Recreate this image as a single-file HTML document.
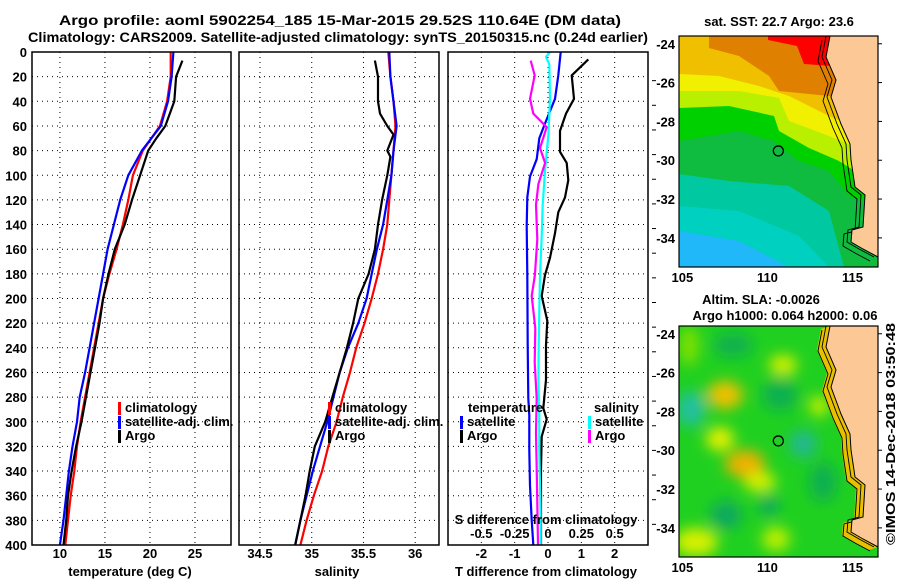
<!DOCTYPE html>
<html><head><meta charset="utf-8"><style>
html,body{margin:0;padding:0;background:#fff;width:900px;height:580px;overflow:hidden}
svg text{font-family:"Liberation Sans",sans-serif;font-weight:bold;fill:#000}
</style></head><body>
<svg id="fig" width="900" height="580" viewBox="0 0 900 580" xmlns="http://www.w3.org/2000/svg">
<text x="340" y="25" font-size="14" text-anchor="middle" textLength="562" lengthAdjust="spacingAndGlyphs">Argo profile: aoml 5902254_185 15-Mar-2015 29.52S 110.64E (DM data)</text>
<text x="338" y="42" font-size="14" text-anchor="middle" textLength="620" lengthAdjust="spacingAndGlyphs">Climatology: CARS2009. Satellite-adjusted climatology: synTS_20150315.nc (0.24d earlier)</text>
<g id="plots"></g>
<g id="map1"></g>
<g id="map2"></g>
<text font-size="13" transform="translate(895,545) rotate(-90)" textLength="222" lengthAdjust="spacingAndGlyphs">©IMOS 14-Dec-2018 03:50:48</text>
</svg>
<script>
// ---- data ----
const tDepth = [0,20,40,60,80,100,120,140,160,180,200,220,240,260,280,300,320,340,360,380,400];
const tClim = [22.3,22.3,21.9,21.1,19.2,18.1,17.6,17.0,16.3,15.5,14.8,14.3,13.8,13.3,12.8,12.3,11.9,11.6,11.2,10.9,10.6];
const tSat = [22.6,22.4,22.0,21.2,19.1,17.6,16.7,16.0,15.3,14.8,14.3,13.8,13.3,12.8,12.2,11.9,11.4,11.0,10.7,10.4,10.0];
const argoDepth = [7,20,40,50,60,70,80,100,120,140,160,180,200,220,240,260,280,300,320,340,360,380,400];
const tArgo = [23.6,22.9,22.7,22.2,21.7,20.7,19.8,18.9,18.0,17.2,16.1,15.4,14.8,14.4,13.9,13.4,12.9,12.4,11.8,11.3,10.9,10.7,10.4];
const sClim = [35.74,35.76,35.79,35.81,35.79,35.77,35.75,35.73,35.69,35.64,35.58,35.51,35.43,35.37,35.30,35.24,35.16,35.10,35.02,34.95,34.89];
const sSat = [35.75,35.76,35.79,35.82,35.79,35.77,35.73,35.69,35.63,35.58,35.53,35.45,35.35,35.27,35.21,35.15,35.08,35.01,34.95,34.89,34.84];
const sArgoDepth = [7,20,40,50,60,67,80,85,100,120,140,160,180,200,220,240,260,280,300,320,340,360,380,400];
const sArgo = [35.61,35.64,35.64,35.66,35.73,35.79,35.73,35.76,35.73,35.68,35.64,35.61,35.55,35.45,35.40,35.34,35.27,35.20,35.13,35.03,34.98,34.94,34.89,34.84];
const dtSatDepth = [0,19,38,58,70,87,101,118,141,181,238,281,295,323,352,380,400];
const dtSat = [0.38,0.31,0.21,-0.09,-0.26,-0.34,-0.54,-0.62,-0.64,-0.62,-0.61,-0.59,-0.56,-0.56,-0.54,-0.49,-0.44];
const dtArgoDepth = [6,19,38,50,64,81,90,104,118,130,147,167,181,198,218,238,266,289,298,312,338,366,400];
const dtArgo = [1.21,0.71,0.78,0.54,0.36,0.36,0.56,0.61,0.51,0.31,0.21,0.06,-0.09,-0.19,-0.02,-0.06,-0.06,-0.14,-0.04,-0.19,-0.21,-0.21,-0.21];
const dsSatDepth = [0,4,10,38,67,95,124,152,181,209,238,266,295,323,352,380,400];
const dsSat = [0.015,-0.015,0.01,0.015,0.003,-0.022,-0.04,-0.048,-0.06,-0.065,-0.07,-0.072,-0.065,-0.065,-0.06,-0.055,-0.055];
const dsArgoDepth = [7,19,38,50,61,78,90,107,124,152,181,198,224,252,281,309,338,366,400];
const dsArgo = [-0.13,-0.1,-0.135,-0.11,-0.01,-0.06,-0.022,-0.072,-0.09,-0.08,-0.098,-0.122,-0.095,-0.1,-0.085,-0.09,-0.085,-0.08,-0.075];
const depthTicks = [0,20,40,60,80,100,120,140,160,180,200,220,240,260,280,300,320,340,360,380,400];
const tTicks = [10,15,20,25];
const sTicks = [34.5,35,35.5,36];
const dtTicks = [-2,-1,0,1,2];
const dsTicks = [-0.5,-0.25,0,0.25,0.5];
const dsTickLabels = ['-0.5','-0.25','0','0.25','0.5'];
const latTicks = [-24,-26,-28,-30,-32,-34];
const lonTicks = [105,110,115];
const argoLon = 110.64, argoLat = -29.52;

const NS='http://www.w3.org/2000/svg';
function mk(tag, attrs, parent){const e=document.createElementNS(NS,tag);for(const k in attrs)e.setAttribute(k,attrs[k]);parent.appendChild(e);return e;}
const plots=document.getElementById('plots');
const Y0=52,Y1=545;
const yD = d => Y0 + d/400*(Y1-Y0);

function panel(name,x0,x1,vmin,vmax){
  const g=mk('g',{},plots);
  
  
  return {g, x:v=>x0+(v-vmin)/(vmax-vmin)*(x1-x0), x0, x1};
}
function grid(p, xt){
  depthTicks.forEach(d=>{ if(d>0&&d<400){const l=mk('line',{x1:p.x0,x2:p.x1,y1:yD(d),y2:yD(d),stroke:'#000','stroke-width':1,'stroke-dasharray':'1,4'},p.g);
    
    }});
  xt.forEach(v=>{const l=mk('line',{x1:p.x(v),x2:p.x(v),y1:Y0,y2:Y1,stroke:'#000','stroke-width':1,'stroke-dasharray':'1,4'},p.g);
    
    });
}
function frame(p){const r=mk('rect',{x:p.x0,y:Y0,width:p.x1-p.x0,height:Y1-Y0,fill:'none',stroke:'#000','stroke-width':1.5},p.g);
  
  }
function line(p,depths,vals,color,name){
  const pts=depths.map((d,i)=>p.x(vals[i]).toFixed(1)+','+yD(d).toFixed(1)).join(' ');
  const l=mk('polyline',{points:pts,fill:'none',stroke:color,'stroke-width':2.2,'stroke-linejoin':'round'},p.g);
  
  
}
function txt(g,x,y,s,anchor,size,name){const t=mk('text',{x:x,y:y,'font-size':size||13,'text-anchor':anchor||'middle'},g);t.textContent=s;
  
  return t;}
function legend(g,x,y,color,label,name){
  const b=mk('rect',{x:x,y:y-10,width:3,height:13,fill:color},g);
  
  
  txt(g,x+7,y,label,'start',13,name+'-label');
}

// Panel 1 temperature
const p1=panel('temperature-panel',32,231,6.9,29);
grid(p1,tTicks);
depthTicks.forEach(d=>txt(p1.g,27,yD(d)+5,String(d),'end',13,'depth-tick-label'));
tTicks.forEach(v=>txt(p1.g,p1.x(v),558,String(v),'middle',13,'temperature-tick-label'));
txt(p1.g,130,576,'temperature (deg C)','middle',13,'temperature-axis-title');
line(p1,tDepth,tClim,'#ff0000','temperature-climatology-line');
line(p1,tDepth,tSat,'#0000ff','temperature-satellite-line');
line(p1,argoDepth,tArgo,'#000000','temperature-argo-line');
frame(p1);
legend(p1.g,118,412,'#ff0000','climatology','legend-climatology');
legend(p1.g,118,426,'#0000ff','satellite-adj. clim.','legend-satellite-adj');
legend(p1.g,118,440,'#000000','Argo','legend-argo');

// Panel 2 salinity
const p2=panel('salinity-panel',239,439,34.297,36.23);
grid(p2,sTicks);
sTicks.forEach(v=>txt(p2.g,p2.x(v),558,String(v),'middle',13,'salinity-tick-label'));
txt(p2.g,337,576,'salinity','middle',13,'salinity-axis-title');
line(p2,tDepth,sClim,'#ff0000','salinity-climatology-line');
line(p2,tDepth,sSat,'#0000ff','salinity-satellite-line');
line(p2,sArgoDepth,sArgo,'#000000','salinity-argo-line');
frame(p2);
legend(p2.g,328,412,'#ff0000','climatology','legend-climatology');
legend(p2.g,328,426,'#0000ff','satellite-adj. clim.','legend-satellite-adj');
legend(p2.g,328,440,'#000000','Argo','legend-argo');

// Panel 3 differences
const p3=panel('difference-panel',448,648,-3,3);
const xS=v=>p3.x(v*4);
grid(p3,dtTicks);
depthTicks.forEach(d=>{ if(d>0&&d<400){const l=mk('line',{x1:652,x2:656,y1:yD(d)+4,y2:yD(d)+4,stroke:'#000','stroke-width':1},p3.g);
  
  }});
dtTicks.forEach(v=>txt(p3.g,p3.x(v),558,String(v),'middle',13,'t-diff-tick-label'));
txt(p3.g,546,576,'T difference from climatology','middle',13,'t-diff-axis-title');
const p3s={g:p3.g,x:xS};
line(p3,dtSatDepth,dtSat,'#0000ff','t-diff-satellite-line');
line(p3,dtArgoDepth,dtArgo,'#000000','t-diff-argo-line');
line(p3s,dsSatDepth,dsSat,'#00ffff','s-diff-satellite-line');
line(p3s,dsArgoDepth,dsArgo,'#ff00ff','s-diff-argo-line');
frame(p3);
txt(p3.g,546,524,'S difference from climatology','middle',13,'s-diff-axis-title');
dsTicks.forEach((v,i)=>txt(p3.g,xS(v),538,dsTickLabels[i],'middle',13,'s-diff-tick-label'));
txt(p3.g,468,412,'temperature','start',13,'legend-temperature-heading');
legend(p3.g,460,426,'#0000ff','satellite','legend-t-satellite');
legend(p3.g,460,440,'#000000','Argo','legend-t-argo');
txt(p3.g,594,412,'salinity','start',13,'legend-salinity-heading');
legend(p3.g,588,426,'#00ffff','satellite','legend-s-satellite');
legend(p3.g,588,440,'#ff00ff','Argo','legend-s-argo');

// ---- maps ----
const W=199,H=231;
const coast=[[151,0],[147,21],[157,44],[152,61],[162,88],[171,108],[172,124],[176,151],[186,159],[184,191],[173,194],[172,206],[184,213],[199,221],[199,0]];
function drawMap(id,ox,oy,titleLines,layers,blobs,band){
  const g=document.getElementById(id);
  titleLines.forEach((s,i)=>txt(g,ox+100+ (i==1?6:0)- (titleLines.length>1&&i==0?18:0),oy-22+ i*16 + (titleLines.length==1?12:0),s,'middle',13,'map-title'));
  const clipId=id+'clip';
  const cp=mk('clipPath',{id:clipId},g);mk('rect',{x:ox,y:oy,width:W,height:H},cp);
  const inner=mk('g',{'clip-path':'url(#'+clipId+')'},g);
  layers.forEach(L=>{const pg=mk('polygon',{points:L[1].map(p=>(ox+p[0])+','+(oy+p[1])).join(' '),fill:L[0]},inner);
    
    });
  if(blobs){
    const f=mk('filter',{id:id+'blur',x:'-50%',y:'-50%',width:'200%',height:'200%'},g);
    mk('feGaussianBlur',{stdDeviation:7},f);
    const bg=mk('g',{filter:'url(#'+id+'blur)'},inner);
    blobs.forEach(b=>{const c=mk('ellipse',{cx:ox+b[0],cy:oy+b[1],rx:b[2],ry:b[3],fill:b[4]},bg);
      
      });
  }
  if(band){
    const bp=coast.slice(0,14).map(p=>(ox+p[0])+','+(oy+p[1])).concat(coast.slice(0,14).reverse().map(p=>(ox+p[0]-9)+','+(oy+p[1]+3))).join(' ');
    const b=mk('polygon',{points:bp,fill:band},inner);
    
    
  }
  const c1=coast.slice(0,14).map(p=>(ox+p[0]-4)+','+(oy+p[1])).join(' ');
  const c2=coast.slice(0,14).map(p=>(ox+p[0]-8)+','+(oy+p[1]+4)).join(' ');
  const l1=mk('polyline',{points:c1,fill:'none',stroke:'#000','stroke-width':0.9},inner);
  
  
  const l2=mk('polyline',{points:c2,fill:'none',stroke:'#000','stroke-width':0.9},inner);
  
  
  const land=mk('polygon',{points:coast.map(p=>(ox+p[0])+','+(oy+p[1])).join(' '),fill:'#fcc896',stroke:'#000','stroke-width':1},inner);
  
  
  const fr=mk('rect',{x:ox,y:oy,width:W,height:H,fill:'none',stroke:'#000','stroke-width':1.2},g);
  
  
  const lonX=v=>ox+(v-104.8)/(116.5-104.8)*W;
  const latY=v=>oy+(-23.6-v)/(35.5-23.6)*H;
  latTicks.forEach(v=>{txt(g,ox-4,latY(v)+5,String(v),'end',13,'latitude-tick-label');
    const t=mk('line',{x1:ox+W,x2:ox+W+4,y1:latY(v),y2:latY(v),stroke:'#000'},g);
    
    });
  lonTicks.forEach(v=>txt(g,lonX(v),oy+H+15,String(v),'middle',13,'longitude-tick-label'));
  const ac=mk('circle',{cx:lonX(argoLon),cy:latY(argoLat),r:5,fill:'none',stroke:'#000','stroke-width':1.3},g);
  
  
}
drawMap('map1',679,36,['sat. SST: 22.7 Argo: 23.6'],[
 ['#20b8f8',[[0,0],[W,0],[W,H],[0,H]]],
 ['#00d0c0',[[0,0],[W,0],[W,H],[110,H],[60,205],[0,195]]],
 ['#00c8a0',[[0,0],[W,0],[W,H],[150,H],[120,200],[60,175],[0,170]]],
 ['#10bc40',[[0,0],[W,0],[W,H],[165,H],[150,175],[110,150],[50,145],[0,138]]],
 ['#00d000',[[0,0],[W,0],[W,170],[170,160],[150,135],[120,125],[95,105],[60,95],[0,105]]],
 ['#b8f000',[[0,0],[W,0],[W,150],[160,125],[130,112],[100,95],[95,80],[50,70],[0,72]]],
 ['#f0f000',[[0,0],[W,0],[W,120],[150,100],[110,85],[100,62],[60,55],[0,55]]],
 ['#f0c000',[[0,0],[W,0],[W,100],[150,80],[110,60],[80,50],[40,40],[0,38]]],
 ['#e08000',[[30,0],[W,0],[W,70],[150,60],[100,55],[90,40],[60,20],[30,12]]],
 ['#ff0000',[[89,0],[150,0],[152,30],[125,28],[118,10],[89,4]]]
],null,null);
drawMap('map2',679,326,['Altim. SLA: -0.0026','Argo h1000: 0.064 h2000: 0.06'],[
 ['#20d020',[[0,0],[W,0],[W,H],[0,H]]]
],[
 [12,83,14,18,'#20c0a0'],[46,69,18,14,'#f0c000'],[41,113,14,12,'#e8f000'],[66,138,20,14,'#f0b000'],
 [81,156,16,10,'#d8f000'],[47,189,16,14,'#10a860'],[124,118,14,14,'#20b890'],[101,69,18,16,'#10b050'],
 [104,39,14,10,'#d8f000'],[54,19,20,12,'#10b050'],[17,216,22,14,'#d8f000'],[144,156,14,20,'#10b050'],
 [97,213,14,12,'#c0f000'],[140,80,10,10,'#c8f000'],[10,20,10,20,'#80e000'],[90,180,10,10,'#10a860']
],'#e8c000');
</script>
</body></html>
